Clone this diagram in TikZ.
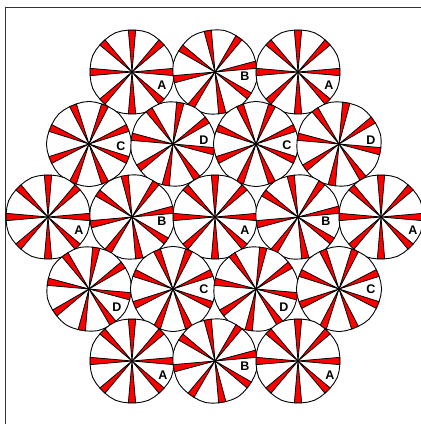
\documentclass[tikz,border=0pt]{standalone}
\usepackage{fontspec}
\setmainfont{Liberation Sans}
\usepackage{tikz}
\usetikzlibrary{positioning}

\begin{document}
\begin{tikzpicture}[
    x=1pt, y=1pt,
    rim/.style={draw=black, fill=white, line width=0.9pt, line join=round},
    spoke/.style={draw=black, fill=red, line width=0.8pt, line join=round},
    frame/.style={draw=black!80, line width=0.9pt},
    lbl/.style={inner sep=0pt, font=\fontsize{12.5}{14}\selectfont\bfseries},
    pics/wheel/.style={code={
        \filldraw[rim] ({#1-5}:42) \foreach \k in {0,...,7}{ -- ({#1+45*\k-5}:42) -- ({#1+45*\k+5}:42) -- ({#1+45*\k+13.75}:42.3) -- ({#1+45*\k+22.5}:42.6) -- ({#1+45*\k+31.25}:42.3) } -- cycle;
        \foreach \k in {0,...,7}
            \filldraw[spoke] (0,0) -- ({#1+45*\k-5}:42) -- ({#1+45*\k+5}:42) -- cycle;
    }}
]
\clip (0,0) rectangle (421,424);

% Frame
\draw[frame] (5,-10) -- (5,417) -- (431,417);

% Row 1
\coordinate (c11) at (132,352);
\coordinate (c12) at (215,352);
\coordinate (c13) at (298,352);
\pic at (c11) {wheel=0};
\pic at (c12) {wheel=10};
\pic at (c13) {wheel=0};

% Row 2
\coordinate (c21) at (89,280);
\coordinate (c22) at (173,280);
\coordinate (c23) at (256,280);
\coordinate (c24) at (339,280);
\pic at (c21) {wheel=22.5};
\pic at (c22) {wheel=-10};
\pic at (c23) {wheel=22.5};
\pic at (c24) {wheel=-10};

% Row 3
\coordinate (c31) at (48,207);
\coordinate (c32) at (132,207);
\coordinate (c33) at (215,207);
\coordinate (c34) at (298,207);
\coordinate (c35) at (381,207);
\pic at (c31) {wheel=0};
\pic at (c32) {wheel=10};
\pic at (c33) {wheel=0};
\pic at (c34) {wheel=10};
\pic at (c35) {wheel=0};

% Row 4
\coordinate (c41) at (89,135);
\coordinate (c42) at (173,135);
\coordinate (c43) at (256,135);
\coordinate (c44) at (339,135);
\pic at (c41) {wheel=-10};
\pic at (c42) {wheel=22.5};
\pic at (c43) {wheel=-10};
\pic at (c44) {wheel=22.5};

% Row 5
\coordinate (c51) at (132,63);
\coordinate (c52) at (215,63);
\coordinate (c53) at (298,63);
\pic at (c51) {wheel=0};
\pic at (c52) {wheel=10};
\pic at (c53) {wheel=0};

% Labels
\node[lbl] (l11) at ([shift={(30,-13)}]c11) {A};
\node[lbl] (l12) at ([shift={(30,-4)}]c12) {B};
\node[lbl] (l13) at ([shift={(31,-13)}]c13) {A};
\node[lbl] (l21) at ([shift={(32,-2)}]c21) {C};
\node[lbl] (l22) at ([shift={(31,4)}]c22) {D};
\node[lbl] (l23) at ([shift={(31,-1)}]c23) {C};
\node[lbl] (l24) at ([shift={(32,4)}]c24) {D};
\node[lbl] (l31) at ([shift={(31,-13)}]c31) {A};
\node[lbl] (l32) at ([shift={(30,-4)}]c32) {B};
\node[lbl] (l33) at ([shift={(30,-13)}]c33) {A};
\node[lbl] (l34) at ([shift={(28,-4)}]c34) {B};
\node[lbl] (l35) at ([shift={(32,-13)}]c35) {A};
\node[lbl] (l41) at ([shift={(28,-18)}]c41) {D};
\node[lbl] (l42) at ([shift={(31,0)}]c42) {C};
\node[lbl] (l43) at ([shift={(28,-18)}]c43) {D};
\node[lbl] (l44) at ([shift={(32,0)}]c44) {C};
\node[lbl] (l51) at ([shift={(31,-14)}]c51) {A};
\node[lbl] (l52) at ([shift={(30,-5)}]c52) {B};
\node[lbl] (l53) at ([shift={(32,-14)}]c53) {A};

\end{tikzpicture}
\end{document}
